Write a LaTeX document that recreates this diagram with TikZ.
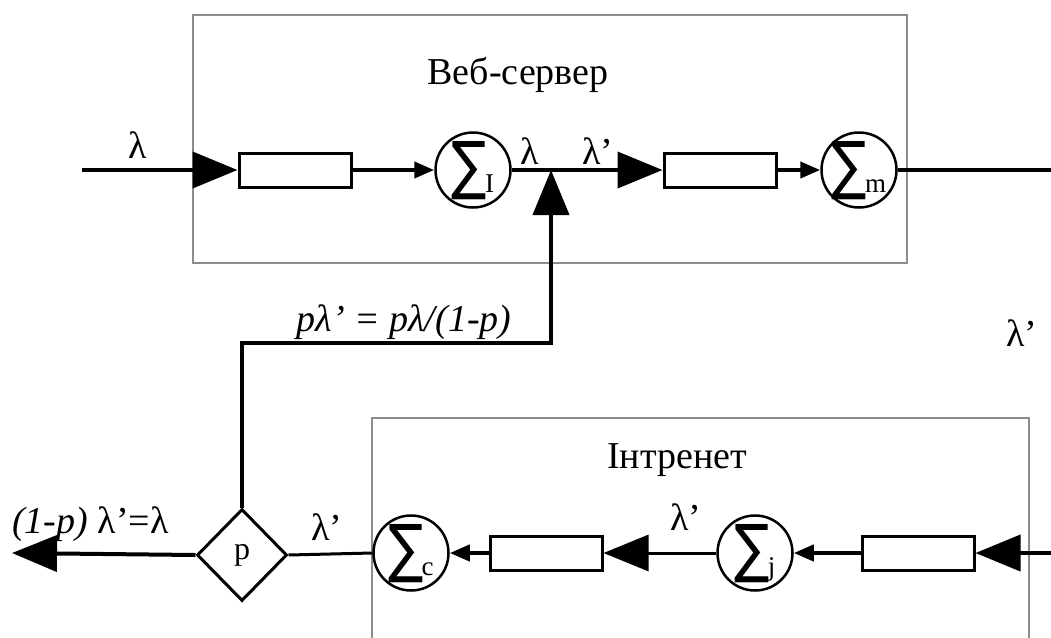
\documentclass[tikz,border=0pt]{standalone}
\usepackage{fontspec}
\setmainfont{Liberation Serif}
\newfontfamily\symf{DejaVu Sans}
\usetikzlibrary{arrows.meta,shapes.geometric}
\begin{document}
\begin{tikzpicture}[x=1pt,y=-1pt,
  frame/.style={draw=black!45, line width=2pt},
  queue/.style={draw, line width=3pt, minimum width=112pt, minimum height=34pt, inner sep=0pt},
  sumnode/.style={circle, draw, line width=2.5pt, minimum size=75pt, inner sep=0pt},
  flow/.style={line width=4pt},
  thinflow/.style={line width=3pt},
  big/.style={-{Triangle[length=45pt,width=36pt]}},
  small/.style={-{Triangle[length=20pt,width=16pt]}},
  lbl/.style={font=\fontsize{38}{38}\selectfont, inner sep=0pt},
  ttl/.style={font=\fontsize{38}{38}\selectfont, inner sep=0pt},
  diam/.style={diamond, draw, line width=3pt, minimum width=90pt, minimum height=92pt, inner sep=0pt, font=\fontsize{32}{32}\selectfont}
]
\newcommand{\sumsym}[1]{\makebox[0pt]{\smash{\raisebox{-17pt}{\scalebox{0.82}[1]{\fontsize{64}{64}\symf ∑}}\kern-2pt\raisebox{-22pt}{\fontsize{27}{27}\selectfont #1}}}}
\useasboundingbox (0,0) rectangle (1051,637);
% frames
\draw[frame] (193,15) rectangle (907,263);
\draw[frame] (372,418) rectangle (1029,660);
\node[ttl] (t1) at (518,75) {Веб-сервер};
\node[ttl] (t2) at (677,460) {Інтренет};
% top row
\coordinate (in) at (82,170);
\node[queue] (q1) at (295,170) {};
\node[sumnode] (s1) at (473,170) {\sumsym{I}};
\coordinate (j) at (551,170);
\node[queue] (q2) at (720,170) {};
\node[sumnode] (s2) at (859,170) {\sumsym{m}};
\coordinate (outr) at (1051,170);
\draw[flow,big] (in) -- (q1.west);
\draw[flow,small] (q1.east) -- (s1.west);
\draw[flow,big] (s1.east) -- (q2.west);
\draw[flow,small] (q2.east) -- (s2.west);
\draw[flow] (s2.east) -- (outr);
\node[lbl] (l1) at (138,145) {λ};
\node[lbl] (l2) at (530,151) {λ};
\node[lbl] (l3) at (598,151) {λ’};
\node[lbl] (l4) at (1022,333) {λ’};
% bottom row
\coordinate (inb) at (1051,553);
\node[queue] (q4) at (918,553) {};
\node[sumnode] (s4) at (755,553) {\sumsym{j}};
\node[queue] (q3) at (546,553) {};
\node[sumnode] (s3) at (411,553) {\sumsym{c}};
\node[diam] (p) at (242,555) {p};
\coordinate (outl) at (12,553);
\draw[flow,big] (inb) -- (q4.east);
\draw[flow,small] (q4.west) -- (s4.east);
\draw[thinflow,big] (s4.west) -- (q3.east);
\draw[flow,small] (q3.west) -- (s3.east);
\draw[thinflow] (s3.west) -- (p.east);
\draw[flow,big] (p.west) -- (outl);
\node[lbl] (l5) at (686,517) {λ’};
\node[lbl] (l6) at (327,527) {λ’};
\node[lbl, anchor=west] (l7) at (12,524) {\textit{(1-p)} λ’=λ};
% feedback
\coordinate (fb1) at (242,343);
\coordinate (fb2) at (551,343);
\draw[flow,big] (p.north) -- (fb1) -- (fb2) -- (j);
\node[lbl, anchor=south] (l8) at (404,340) {\textit{pλ’ = pλ/(1-p)}};
\end{tikzpicture}
\end{document}
